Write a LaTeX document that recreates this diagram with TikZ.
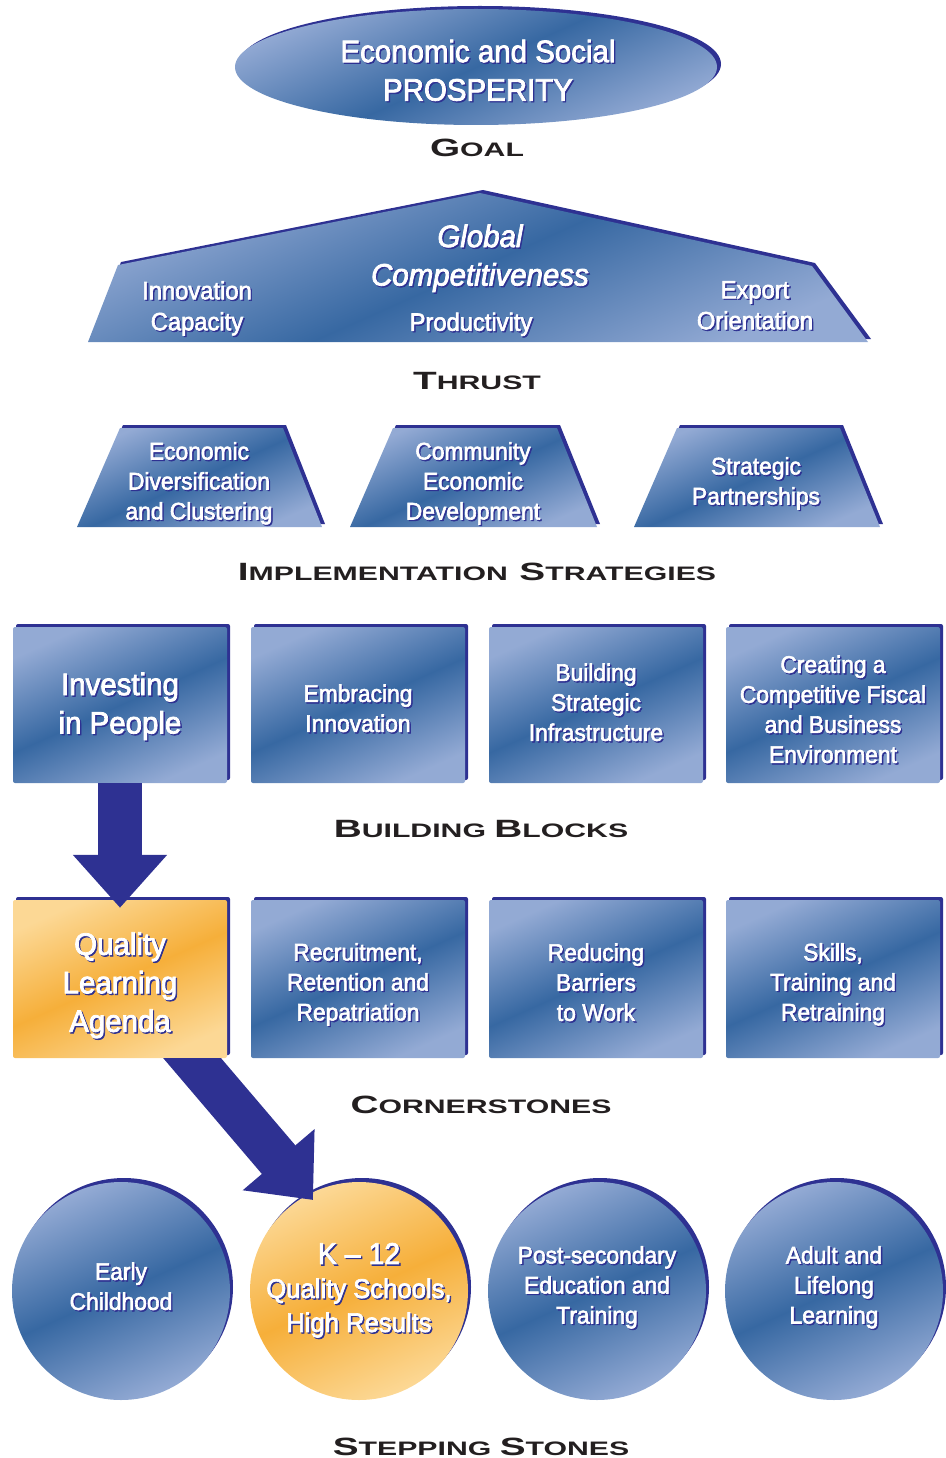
\documentclass[tikz,border=0pt]{standalone}
\usepackage{fontspec}
\setmainfont{Liberation Sans}[FakeStretch=0.95, FakeBold=2.5]
\newfontfamily\hdfont{Liberation Sans}[FakeStretch=1.55]
\usetikzlibrary{shapes.geometric,shadows,calc,arrows.meta}
\definecolor{navy}{HTML}{2E3192}
\definecolor{lb}{HTML}{93AAD4}
\definecolor{db}{HTML}{3768A2}
\definecolor{lo}{HTML}{FCD895}
\definecolor{do}{HTML}{F6AF3A}
\definecolor{hd}{HTML}{231F20}
\newcommand\shd[1]{\leavevmode\rlap{\kern1.4pt\raisebox{-1.4pt}{\textcolor{navy}{#1}}}\textcolor{white}{#1}}
\newcommand\fnorm{\fontsize{24}{30}\selectfont}
\newcommand\fbig{\fontsize{31}{38.5}\selectfont}
\newcommand\fthr{\fontsize{25}{31}\selectfont}
\newcommand\hA{\fontsize{25}{25}\selectfont}
\newcommand\hB{\fontsize{19.5}{25}\selectfont}
\newcommand\hdg[1]{{\hdfont\bfseries\color{hd}#1}}
\tikzset{
  bluefill/.style={top color=lb, bottom color=lb, middle color=db, shading angle=24},
  orangefill/.style={top color=lo, bottom color=lo, middle color=do, shading angle=24},
  navyshadow/.style={drop shadow={shadow xshift=3pt, shadow yshift=3pt, fill=navy, opacity=1}},
  circshadow/.style={drop shadow={shadow xshift=3pt, shadow yshift=4pt, fill=navy, opacity=1}},
  txt/.style={align=center, inner sep=0pt, font=\fnorm},
  blk/.style={rectangle, minimum width=214pt, minimum height=156pt, inner sep=0pt,
    rounded corners=2pt, navyshadow},
  cst/.style={blk, minimum height=158pt},
  stone/.style={circle, minimum size=218pt, inner sep=0pt, circshadow},
  hdn/.style={anchor=base, inner sep=0pt},
  bigarrow/.style={navy, line width=44pt, -{Triangle[width=91pt,length=53pt]}}
}
\begin{document}
\begin{tikzpicture}[x=1pt,y=-1pt]
\useasboundingbox (0,0) rectangle (945,1458);

% GOAL
\node[ellipse, minimum width=482pt, minimum height=116pt, bluefill,
  drop shadow={shadow xshift=4pt, shadow yshift=3pt, fill=navy, opacity=1}] (goal) at (476,67) {};
\node[txt, font=\fbig] (goaltxt) at (478,71) {\shd{Economic and Social}\\\shd{PROSPERITY}};
\node[hdn] (hgoal) at (477,157) {\hdg{{\hA G}{\hB OAL}}};

% THRUST
\path[bluefill, navyshadow] (88,342) -- (118,265) -- (480,193) -- (812,266) -- (868,342) -- cycle;
\node[txt, font=\fbig\itshape] (gc) at (480,259) {\shd{Global}\\\shd{Competitiveness}};
\node[txt, font=\fthr] (ic) at (197,309) {\shd{Innovation}\\\shd{Capacity}};
\node[txt, font=\fthr] (pr) at (471,325) {\shd{Productivity}};
\node[txt, font=\fthr] (eo) at (755,306) {\shd{Export}\\\shd{Orientation}};
\node[hdn] (hthrust) at (477,389) {\hdg{{\hA T}{\hB HRUST}}};

% IMPLEMENTATION STRATEGIES
\path[bluefill, navyshadow] (77,527) -- (120,428) -- (283,428) -- (322,527) -- cycle;
\path[bluefill, navyshadow] (350,527) -- (393,428) -- (557,428) -- (597,527) -- cycle;
\path[bluefill, navyshadow] (634,527) -- (677,428) -- (840,428) -- (880,527) -- cycle;
\node[txt] (is1) at (199,484) {\shd{Economic}\\\shd{Diversification}\\\shd{and Clustering}};
\node[txt] (is2) at (473,484) {\shd{Community}\\\shd{Economic}\\\shd{Development}};
\node[txt] (is3) at (756,484) {\shd{Strategic}\\\shd{Partnerships}};
\node[hdn] (himpl) at (477,580) {\hdg{{\hA I}{\hB MPLEMENTATION\ \,}{\hA S}{\hB TRATEGIES}}};

% BUILDING BLOCKS
\node[blk, bluefill] (ip) at (120,705) {};
\node[blk, bluefill] (ei) at (358,705) {};
\node[blk, bluefill] (bsi) at (596,705) {};
\node[blk, bluefill] (cfe) at (833,705) {};
\node[txt, font=\fbig] (ip-t) at ($(ip)+(0,2)$) {\shd{Investing}\\\shd{in People}};
\node[txt] (ei-t) at ($(ei)+(0,4)$) {\shd{Embracing}\\\shd{Innovation}};
\node[txt] (bsi-t) at ($(bsi)+(0,-2)$) {\shd{Building}\\\shd{Strategic}\\\shd{Infrastructure}};
\node[txt] (cfe-t) at ($(cfe)+(0,5)$) {\shd{Creating a}\\\shd{Competitive Fiscal}\\\shd{and Business}\\\shd{Environment}};
\node[hdn] (hbb) at (481,837) {\hdg{{\hA B}{\hB UILDING }{\hA B}{\hB LOCKS}}};

% CORNERSTONES
\node[cst, orangefill] (qla) at (120,979) {};
\node[cst, bluefill] (rrr) at (358,979) {};
\node[cst, bluefill] (rbw) at (596,979) {};
\node[cst, bluefill] (str) at (833,979) {};
\node[txt, font=\fbig] (qla-t) at ($(qla)+(0,7)$) {\shd{Quality}\\\shd{Learning}\\\shd{Agenda}};
\node[txt] (rrr-t) at ($(rrr)+(0,6)$) {\shd{Recruitment,}\\\shd{Retention and}\\\shd{Repatriation}};
\node[txt] (rbw-t) at ($(rbw)+(0,4)$) {\shd{Reducing}\\\shd{Barriers}\\\shd{to Work}};
\node[txt] (str-t) at ($(str)+(0,6)$) {\shd{Skills,}\\\shd{Training and}\\\shd{Retraining}};
\node[hdn] (hcs) at (481,1113) {\hdg{{\hA C}{\hB ORNERSTONES}}};

% STEPPING STONES
\node[stone, bluefill] (ec) at (121,1291) {};
\node[stone, orangefill] (k12) at (359,1291) {};
\node[stone, bluefill] (ps) at (597,1291) {};
\node[stone, bluefill] (al) at (834,1291) {};
\node[txt] (ec-t) at ($(ec)+(0,-4)$) {\shd{Early}\\\shd{Childhood}};
\node[txt, font=\fontsize{27}{34}\selectfont] (k12-t) at (k12)
  {{\fontsize{30}{34}\selectfont\shd{K – 12}}\\\shd{Quality Schools,}\\\shd{High Results}};
\node[txt] (ps-t) at ($(ps)+(0,-3)$) {\shd{Post-secondary}\\\shd{Education and}\\\shd{Training}};
\node[txt] (al-t) at ($(al)+(0,-3)$) {\shd{Adult and}\\\shd{Lifelong}\\\shd{Learning}};
\node[hdn] (hss) at (481,1455) {\hdg{{\hA S}{\hB TEPPING }{\hA S}{\hB TONES}}};

% arrows
\draw[bigarrow] (ip.south) -- ($(qla.north)+(0,8)$);
\begin{scope}
  \clip (qla.south west) rectangle (945,1458);
  \draw[bigarrow] ($(qla.south)+(56,-19)$) -- ($(k12.center)+(-46,-91)$);
\end{scope}
\end{tikzpicture}
\end{document}
